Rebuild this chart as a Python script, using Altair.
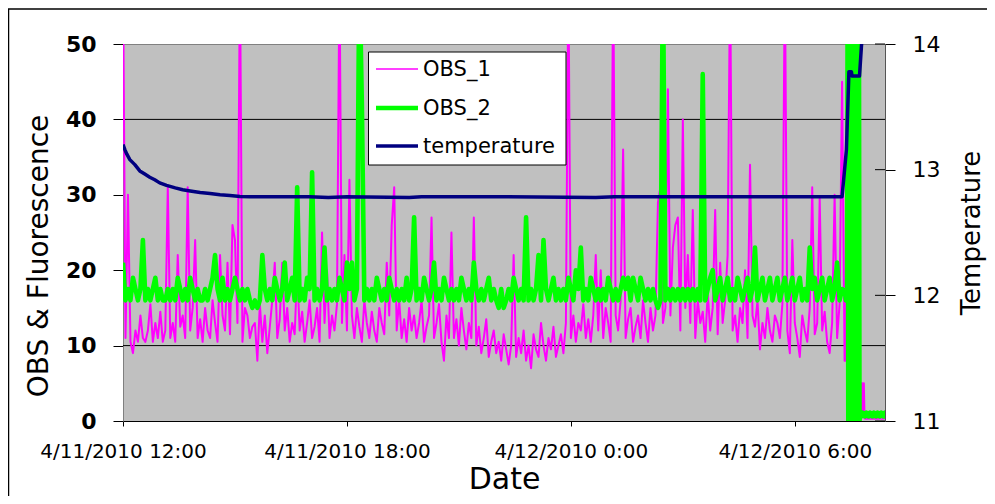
import altair as alt
import pandas as pd

# ---------------- data ----------------
start = pd.Timestamp("2010-04-11 12:00:00")
series_names = ["OBS_1", "OBS_2", "temperature"]
series_colors = ["#FF00FF", "#00FF00", "#000080"]

main_minutes = list(range(0, 1161, 4))     # 4-minute samples up to 07:20
end_minutes = list(range(1161, 1227))      # 1-minute samples at the end

obs1_main = [
    60, 11, 30, 10.5, 9, 12, 10.5, 14, 11, 10.5,
    12, 15.5, 10.5, 13, 11, 14.5, 10.5, 12, 31, 11,
    13, 10.5, 22, 12.5, 14, 11, 31, 12, 15, 24,
    11, 13.5, 10.5, 15, 12, 11, 16, 13, 10.5, 22,
    14, 12, 21, 11.5, 26, 24, 13, 60, 10.5, 15,
    14, 11, 12.5, 13, 8, 15.5, 10.5, 14, 9, 12.5,
    16, 21, 11, 13.5, 21, 12, 15, 10.5, 13, 11.5,
    20, 12, 14.5, 10.5, 13, 16, 11, 12.5, 15, 10.5,
    25, 13, 20, 11, 14, 12, 15.5, 60, 13, 22,
    12, 32, 14, 11, 15, 12.5, 10.5, 16, 13, 11,
    14.5, 12, 10.5, 15, 13, 11.5, 21, 14, 26, 31,
    12, 16, 11, 13.5, 10.5, 15, 12, 14, 11, 13,
    16, 10.5, 12.5, 14, 27, 11, 13, 15.5, 10.5, 8,
    14, 11, 25, 11, 13.5, 10, 15, 12, 9.5, 13,
    11, 27, 10, 12.5, 9, 11, 13.5, 8.5, 10.5, 12,
    9, 10.5, 8, 11.5, 9.5, 7.5, 10, 22, 8.5, 11,
    9, 12, 8, 10, 7, 11.5, 9.5, 8.5, 13, 10,
    8, 11, 9.5, 12.5, 8.5, 10, 11.5, 9, 13, 60,
    11, 14, 10.5, 13, 12, 15.5, 11, 13.5, 10.5, 14,
    22, 12, 20, 11, 15, 13, 10.5, 60, 14, 12,
    16, 36, 11, 13.5, 15, 10.5, 12.5, 14, 11, 16,
    13, 10.5, 15, 12, 14, 29, 31, 13, 15, 44,
    14, 23, 26, 27, 12, 40, 15, 22, 13, 28,
    11, 16, 13, 14.5, 10.5, 17, 12, 15, 28, 11.5,
    21, 13, 16, 22, 60, 12, 14, 10.5, 15, 13,
    20, 11, 34, 14, 12.5, 16, 9.5, 13, 11, 15,
    12, 10.5, 14, 13, 11, 15.5, 60, 12, 9, 24,
    13, 11, 8.5, 14, 12, 10.5, 15, 31, 11.5, 13,
    29.5, 12, 14.5, 10.5, 9, 13, 30, 11, 15.5, 45,
    8,
]

obs2_main = [
    21, 16, 17.5, 16, 19, 17.5, 16, 17.5, 24, 16,
    17.5, 16, 17.5, 19, 16, 17.5, 16, 16, 17.5, 16,
    17.5, 16, 19, 17.5, 16, 17.5, 16, 19, 17.5, 16,
    17.5, 16, 16, 17.5, 16, 17.5, 19, 22, 17.5, 16,
    19, 16, 17.5, 16, 17.5, 19, 17.5, 16, 17.5, 16,
    17.5, 16, 15, 16, 15, 16, 22, 17.5, 16, 17.5,
    16, 19, 17.5, 16, 17.5, 21, 16, 17.5, 19, 16,
    31, 16, 17.5, 16, 19, 17.5, 33, 16, 17.5, 16,
    17.5, 23, 16, 17.5, 16, 17.5, 16, 19, 17.5, 16,
    21, 17.5, 21, 16, 17.5, 60, 42, 16, 17.5, 16,
    17.5, 16, 19, 17.5, 16, 17.5, 16, 19, 17.5, 16,
    17.5, 16, 17.5, 16, 19, 16, 17.5, 27, 16, 17.5,
    16, 19, 17.5, 16, 17.5, 21, 16, 17.5, 16, 19,
    17.5, 16, 17.5, 16, 17.5, 16, 19, 17.5, 16, 17.5,
    16, 21, 17.5, 16, 17.5, 16, 17.5, 19, 16, 17.5,
    16, 15, 17.5, 15, 16, 17.5, 16, 19, 17.5, 16,
    17.5, 16, 27, 16, 17.5, 16, 17.5, 22, 16, 24,
    17.5, 16, 17.5, 19, 16, 17.5, 16, 17.5, 16, 19,
    17.5, 16, 20, 17.5, 23, 16, 17.5, 16, 19, 17.5,
    16, 17.5, 16, 17.5, 16, 19, 17.5, 16, 17.5, 16,
    17.5, 19, 17.5, 19, 16, 19, 17.5, 16, 19, 17.5,
    16, 17.5, 16, 17.5, 16, 15, 16, 60, 16, 17.5,
    16, 17.5, 16, 17.5, 16, 17.5, 16, 17.5, 16, 17.5,
    16, 17.5, 16, 46, 16, 17.5, 19, 20, 16, 17.5,
    19, 16, 17.5, 19, 16, 17.5, 16, 19, 17.5, 16,
    17.5, 19, 16, 17.5, 23, 16, 17.5, 19, 16, 17.5,
    19, 16, 17.5, 19, 16, 17.5, 19, 16, 17.5, 19,
    16, 17.5, 19, 16, 17.5, 16, 23, 17.5, 19, 16,
    17.5, 19, 16, 17.5, 19, 16, 17.5, 21, 16, 17.5,
    17,
]

obs1_end = [
    12, 8, 22, 10,
    35, 5, 30, 8, 40, 4, 25, 6, 30, 3, 20, 5, 35, 4, 15, 3, 25, 2, 10, 3,
    1, 0.5, 5, 0.5, 5, 0.5, 5,
    0.5, 0.3, 0.5, 0.3, 0.5, 0.3, 0.5, 0.3, 0.5, 0.3,
    0.5, 0.3, 0.5, 0.3, 0.5, 0.3, 0.5, 0.3, 0.5, 0.3,
    0.5, 0.3, 0.5, 0.3, 0.5, 0.3, 0.5, 0.3, 0.5, 0.3,
    0.5, 0.3, 0.5, 0.3, 0.5,
]

obs2_end = [
    17, 16, 17.5, 16,
    60, 0, 60, 0, 60, 0, 60, 0, 60, 0, 60, 0, 60, 0, 60, 0, 60, 0, 60, 0,
    0.8, 1, 0.6, 0.9, 1.1, 0.7,
    0.8, 1, 0.6, 0.9, 1.1, 0.7,
    0.8, 1, 0.6, 0.9, 1.1, 0.7,
    0.8, 1, 0.6, 0.9, 1.1, 0.7,
    0.8, 1, 0.6, 0.9, 1.1, 0.7,
    0.8, 1, 0.6, 0.9, 1.1, 0.7,
    0.8, 1, 0.6, 0.9, 1.1, 0.7,
]

temp_minutes = [0, 3, 6, 11, 19, 27, 35, 43, 51, 59,
                70, 84, 96, 108, 124, 140, 156, 172, 188, 204,
                300, 330, 360, 460, 480, 600, 760, 790, 900, 1000,
                1100, 1156, 1163, 1167, 1171, 1172, 1184, 1188, 1195]
temp_values = [13.2, 13.16, 13.125, 13.08, 13.04, 12.99, 12.965, 12.94, 12.92, 12.895,
               12.875, 12.855, 12.84, 12.83, 12.818, 12.81, 12.8, 12.794, 12.787, 12.785,
               12.785, 12.778, 12.785, 12.778, 12.785, 12.785, 12.778, 12.785, 12.785, 12.785,
               12.785, 12.785, 13.16, 13.78, 13.78, 13.745, 13.745, 14.05, 14.5]

left_ticks = [0, 10, 20, 30, 40, 50]
grid_values = [10, 40]
right_ticks = [11, 12, 13, 14]

assert len(obs1_main) == len(main_minutes) == len(obs2_main)
assert len(obs1_end) == len(end_minutes) == len(obs2_end)
assert len(temp_minutes) == len(temp_values)

minutes = main_minutes + end_minutes
df = pd.DataFrame({
    "time": [start + pd.Timedelta(minutes=m) for m in minutes],
    "OBS_1": obs1_main + obs1_end,
    "OBS_2": obs2_main + obs2_end,
})
temp_df = pd.DataFrame({
    "time": [start + pd.Timedelta(minutes=m) for m in temp_minutes],
    "temperature": temp_values,
})
grid_df = pd.DataFrame({"v": grid_values})
rtick_df = pd.DataFrame({"v": right_ticks})
one = pd.DataFrame({"k": [0]})

# ---------------- layout ----------------
W, H = 762, 377
FONT = "DejaVu Sans"

x_axis = alt.Axis(
    values=[alt.DateTime(year=2010, month=4, date=11, hours=12),
            alt.DateTime(year=2010, month=4, date=11, hours=18),
            alt.DateTime(year=2010, month=4, date=12, hours=0),
            alt.DateTime(year=2010, month=4, date=12, hours=6)],
    format="%-m/%-d/%Y %-H:%M", labelFont=FONT, labelFontSize=20, labelColor="black",
    labelPadding=15, tickSize=5, tickColor="black", domainColor="black",
    grid=False, labelOverlap=False, labelFlush=False,
    title="Date", titleFont=FONT, titleFontSize=30, titleFontWeight="normal",
    titleColor="black", titleBaseline="alphabetic", titleY=67,
)
x_scale = alt.Scale(domain=[alt.DateTime(year=2010, month=4, date=11, hours=12),
                            alt.DateTime(year=2010, month=4, date=12, hours=8, minutes=25)])

left_axis = alt.Axis(
    values=left_ticks, format="d", tickSize=10, tickColor="black", labelPadding=17,
    labelFont=FONT, labelFontSize=22, labelFontWeight="bold", labelColor="black",
    domainColor="#808080", grid=False,
    title="OBS & Fluorescence", titleFont=FONT, titleFontSize=28, titleFontWeight="normal",
    titleColor="black", titleAngle=270, titleX=-76, titleY=211.5,
    titleAlign="center", titleBaseline="alphabetic",
)
left_scale = alt.Scale(domain=[0, 50], nice=False)

right_axis = alt.Axis(
    orient="right", values=right_ticks, format="d", tickSize=10, tickColor="black",
    labelPadding=17, labelFont=FONT, labelFontSize=22, labelColor="black",
    domainColor="#555555", grid=False,
    title="Temperature", titleFont=FONT, titleFontSize=26, titleFontWeight="normal",
    titleColor="black", titleAngle=270, titleX=94, titleY=188.5,
    titleAlign="center", titleBaseline="alphabetic",
)
right_scale = alt.Scale(domain=[11, 14], nice=False)

X = alt.X("time:T", scale=x_scale, axis=x_axis)

grid = alt.Chart(grid_df).mark_rule(color="black", strokeWidth=1).encode(
    y=alt.Y("v:Q", scale=left_scale, axis=left_axis),
    x=alt.value(0), x2=alt.value(W))

obs1 = alt.Chart(df).mark_line(color=series_colors[0], strokeWidth=2, clip=True,
                               strokeJoin="round").encode(
    x=X, y=alt.Y("OBS_1:Q", scale=left_scale, axis=left_axis))

obs2 = alt.Chart(df).mark_line(color=series_colors[1], strokeWidth=4.6, clip=True,
                               strokeJoin="round").encode(
    x=X, y=alt.Y("OBS_2:Q", scale=left_scale, axis=left_axis))

# outer frame of the chart area
frame_top = alt.Chart(one).mark_rule(color="black", strokeWidth=1.5).encode(
    x=alt.value(-115), x2=alt.value(W + 102), y=alt.value(-35))
frame_left = alt.Chart(one).mark_rule(color="black", strokeWidth=1.5).encode(
    x=alt.value(-114.5), y=alt.value(-35), y2=alt.value(H + 80))

# legend
leg_box = alt.Chart(one).mark_rect(fill="white", stroke="black", strokeWidth=1).encode(
    x=alt.value(245.5), x2=alt.value(443), y=alt.value(8), y2=alt.value(121))
leg_rows = [25, 64, 102]
leg_widths = [1.6, 4.5, 3.5]
leg_layers = []
for name, col, yy, sw in zip(series_names, series_colors, leg_rows, leg_widths):
    leg_layers.append(alt.Chart(one).mark_rule(color=col, strokeWidth=sw).encode(
        x=alt.value(253), x2=alt.value(295), y=alt.value(yy)))
    leg_layers.append(alt.Chart(one).mark_text(
        align="left", baseline="middle", font=FONT, fontSize=21, color="black").encode(
        x=alt.value(300), y=alt.value(yy + 1), text=alt.value(name)))

left_group = alt.layer(grid, obs1, obs2, frame_top, frame_left, leg_box, *leg_layers)

temp_line = alt.Chart(temp_df).mark_line(color=series_colors[2], strokeWidth=3.5,
                                         clip=True, strokeJoin="round").encode(
    x=X, y=alt.Y("temperature:Q", scale=right_scale, axis=right_axis))
rticks_in = alt.Chart(rtick_df).mark_rule(color="black", strokeWidth=1).encode(
    y=alt.Y("v:Q", scale=right_scale, axis=right_axis),
    x=alt.value(W - 10), x2=alt.value(W))
right_group = alt.layer(temp_line, rticks_in)

chart = alt.layer(left_group, right_group).resolve_scale(y="independent").properties(
    width=W, height=H,
    padding={"left": 115, "top": 36, "right": 102, "bottom": 75},
    autosize=alt.AutoSizeParams(type="none"),
    background="white",
).configure_view(fill="#C0C0C0", stroke="#808080", strokeWidth=1)

chart.save("out.html", embed_options={"renderer": "svg", "actions": False})
